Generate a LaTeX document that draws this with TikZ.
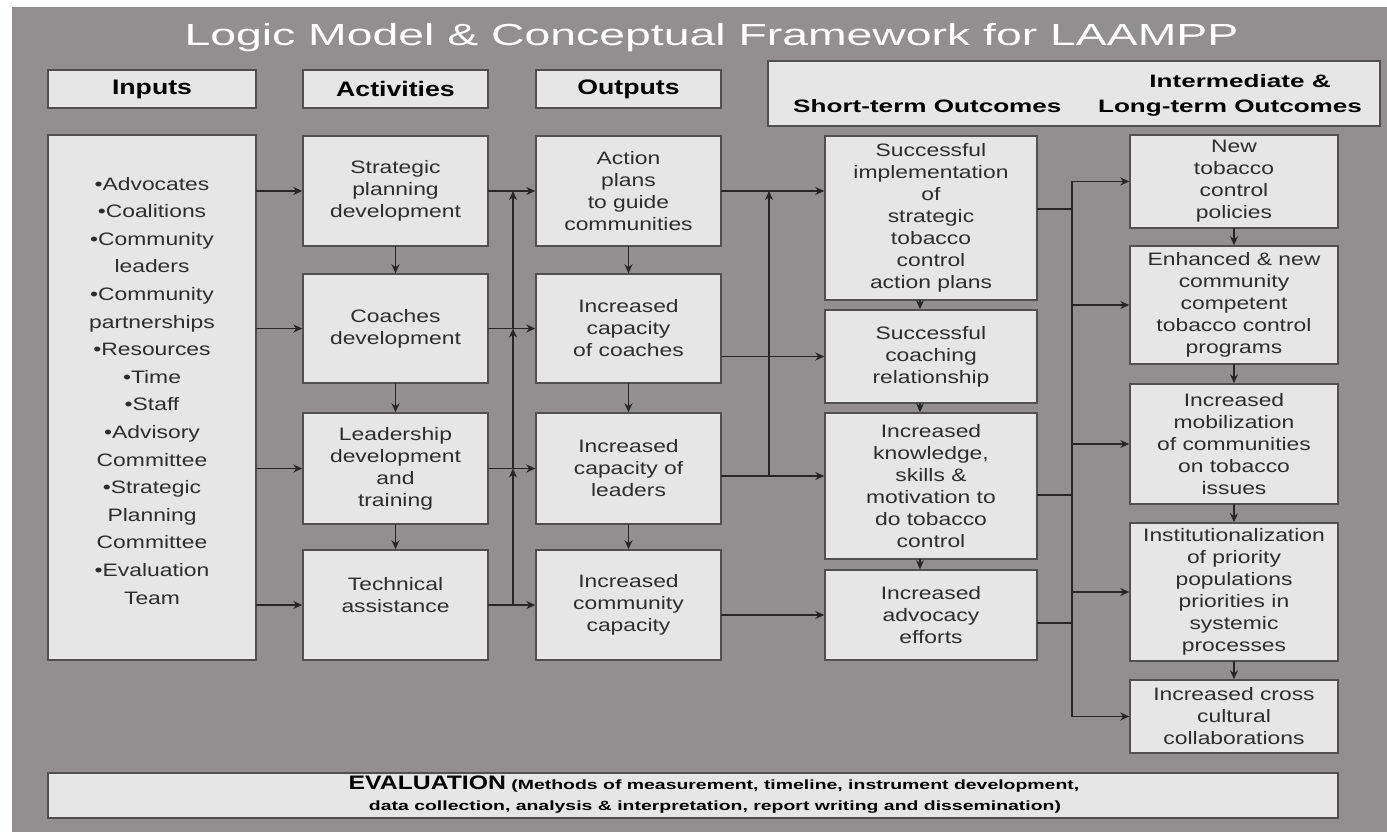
\documentclass[tikz,border=0pt]{standalone}
\usepackage{fontspec}
\setmainfont{Liberation Sans}[FakeStretch=1.27]
\newfontfamily\titlefont{Liberation Sans}[FakeStretch=1.52]
\newfontfamily\widefont{Liberation Sans}[FakeStretch=1.45]
\usetikzlibrary{arrows.meta}
\definecolor{bggray}{RGB}{145,143,144}
\definecolor{boxgray}{RGB}{230,230,230}
\definecolor{edgegray}{RGB}{80,80,80}
\definecolor{inkgray}{RGB}{45,45,45}
\begin{document}
\begin{tikzpicture}[x=1pt,y=-1pt,line cap=round,>={Stealth[length=9pt,width=8pt]},
	box/.style={draw=edgegray,line width=1.5pt,fill=boxgray,align=center,inner sep=2pt,text=inkgray,font=\fontsize{18}{22}\selectfont},
	hdrbox/.style={box,text=black,font=\fontsize{21}{24}\selectfont\bfseries},
	hdrtext/.style={text=black,inner sep=0pt,font=\widefont\fontsize{18}{22}\selectfont\bfseries},
	link/.style={draw=black!85,line width=1.4pt}]
	\fill[white] (0,0) rectangle (1387,832);
	\fill[bggray] (12,7) rectangle (1387,832);
	\useasboundingbox (0,0) rectangle (1387,832);
	\node[anchor=base,text=white,font=\titlefont\fontsize{30.5}{34}\selectfont] (title) at (711.5,46) {Logic Model \& Conceptual Framework for LAAMPP};
	% column heads
	\node[hdrbox,minimum width=208,minimum height=38] (hin) at (152,89) {Inputs};
	\node[hdrbox,minimum width=185,minimum height=38] (hact) at (395.5,89) {Activities};
	\node[hdrbox,minimum width=185,minimum height=38] (hout) at (628.5,89) {Outputs};
	\node[box,minimum width=612,minimum height=65] (hoc) at (1074,93.5) {};
	\node[hdrtext,anchor=base] (hint) at (1240,88) {Intermediate \&};
	\node[hdrtext,anchor=base west] (hshort) at (793,113) {Short-term Outcomes};
	\node[hdrtext,anchor=base] (hlong) at (1230,113) {Long-term Outcomes};
	% inputs
	\node[box,minimum width=208,minimum height=525,font=\fontsize{18}{27.6}\selectfont] (in) at (152,397.5)
		{•Advocates\\•Coalitions\\•Community\\leaders\\•Community\\partnerships\\•Resources\\•Time\\•Staff\\•Advisory\\Committee\\•Strategic\\Planning\\Committee\\•Evaluation\\Team\rule[-14pt]{0pt}{0pt}};
	% activities
	\node[box,minimum width=185,minimum height=110] (act1) at (395.5,191) {Strategic\\planning\\development};
	\node[box,minimum width=185,minimum height=109] (act2) at (395.5,328.5) {Coaches\\development};
	\node[box,minimum width=185,minimum height=111] (act3) at (395.5,468.5) {Leadership\\development\\and\\training};
	\node[box,minimum width=185,minimum height=110] (act4) at (395.5,605) {Technical\\assistance\rule[-20pt]{0pt}{0pt}};
	% outputs
	\node[box,minimum width=185,minimum height=110] (out1) at (628.5,191) {Action\\plans\\to guide\\communities};
	\node[box,minimum width=185,minimum height=109] (out2) at (628.5,328.5) {Increased\\capacity\\of coaches};
	\node[box,minimum width=185,minimum height=111] (out3) at (628.5,468.5) {Increased\\capacity of\\leaders};
	\node[box,minimum width=185,minimum height=110] (out4) at (628.5,605) {Increased\\community\\capacity};
	% short-term outcomes
	\node[box,minimum width=212,minimum height=164] (s1) at (931,218) {Successful\\implementation\\of\\strategic\\tobacco\\control\\action plans};
	\node[box,minimum width=212,minimum height=93] (s2) at (931,356.5) {Successful\\coaching\\relationship};
	\node[box,minimum width=212,minimum height=146] (s3) at (931,486) {Increased\\knowledge,\\skills \&\\motivation to\\do tobacco\\control};
	\node[box,minimum width=212,minimum height=90] (s4) at (931,615) {Increased\\advocacy\\efforts};
	% intermediate & long-term outcomes
	\node[box,minimum width=208,minimum height=93] (l1) at (1234,181.5) {New\\tobacco\\control\\policies};
	\node[box,minimum width=208,minimum height=118] (l2) at (1234,305) {Enhanced \& new\\community\\competent\\tobacco control\\programs};
	\node[box,minimum width=208,minimum height=120] (l3) at (1234,444) {Increased\\mobilization\\of communities\\on tobacco\\issues};
	\node[box,minimum width=208,minimum height=138] (l4) at (1234,592) {Institutionalization\\of priority\\populations\\priorities in\\systemic\\processes};
	\node[box,minimum width=208,minimum height=73] (l5) at (1234,716.5) {Increased cross\\cultural\\collaborations};
	% evaluation bar, text sits a little right of centre
	\node[box,minimum width=1290,minimum height=45,text=black,font=\widefont\fontsize{13.4}{21}\selectfont\bfseries] (eval) at (693,795.5)
		{\hspace*{42pt}{\normalfont\bfseries\fontsize{19.5}{21}\selectfont EVALUATION} (Methods of measurement, timeline, instrument development,\\\hspace*{44pt}data collection, analysis \& interpretation, report writing and dissemination)\rule[-4pt]{0pt}{0pt}};
	% arrows down each column
	\foreach \a/\b in {act1/act2,act2/act3,act3/act4,out1/out2,out2/out3,out3/out4,l1/l2,l2/l3,l3/l4,l4/l5}
		\draw[link,->] (\a.south) -- (\b.north);
	\foreach \a/\b in {s1/s2,s2/s3,s3/s4}
		\draw[link,->] ([xshift=-11pt]\a.south) -- ([xshift=-11pt]\b.north);
	% inputs -> activities -> outputs
	\foreach \n in {1,...,4} {
		\draw[link,->] (in.east |- act\n.west) -- (act\n.west);
		\draw[link,->] (act\n.east) -- (out\n.west);
	}
	\coordinate (lb) at (513,0);
	\draw[link,->] (lb |- act4.east) -- (lb |- act3.east);
	\draw[link,->] (lb |- act3.east) -- (lb |- act2.east);
	\draw[link,->] (lb |- act2.east) -- (lb |- act1.east);
	% outputs -> short-term
	\draw[link,->] (out1.east) -- (out1.east -| s1.west);
	\draw[link,->] (out2.east |- s2.west) -- (s2.west);
	\coordinate (j3) at ([yshift=-7.5pt]out3.east);
	\draw[link,->] (j3) -- (j3 -| s3.west);
	\draw[link,->] (out4.east |- s4.west) -- (s4.west);
	\coordinate (mb) at (769,0);
	\draw[link,->] (mb |- j3) -- (mb |- out1.east);
	% short-term -> long-term
	\coordinate (rb) at (1072,0);
	\coordinate (k1) at ([yshift=9pt]s1.east);
	\coordinate (k3) at ([yshift=-9pt]s3.east);
	\coordinate (k4) at ([yshift=-8pt]s4.east);
	\foreach \k in {k1,k3,k4}
		\draw[link] (\k) -- (\k -| rb);
	\draw[link] (rb |- l1.west) -- (rb |- l5.west);
	\foreach \n in {1,...,5}
		\draw[link,->] (rb |- l\n.west) -- (l\n.west);
\end{tikzpicture}
\end{document}
